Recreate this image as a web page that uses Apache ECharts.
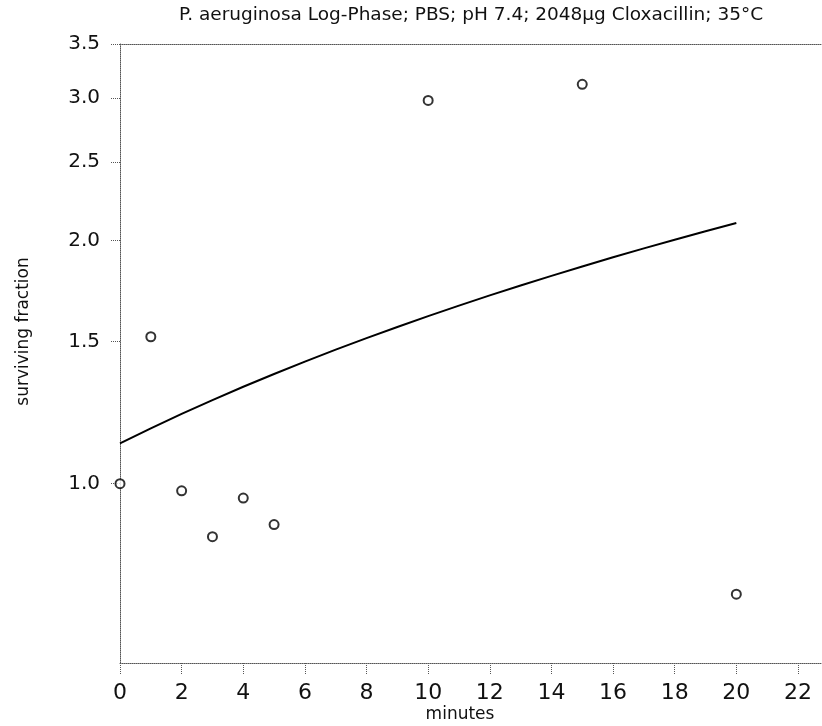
<!DOCTYPE html>
<html><head><meta charset="utf-8">
<script src="https://cdn.jsdelivr.net/npm/echarts@6/dist/echarts.min.js"></script>
<style>html,body{margin:0;padding:0;background:#fff}#c{width:822px;height:726px}</style>
</head><body><div id="c"></div>
<script>
const titleText = 'P. aeruginosa Log-Phase; PBS; pH 7.4; 2048µg Cloxacillin; 35°C';
const xName = 'minutes';
const yName = 'surviving fraction';
const obsMinutes = [0, 1, 2, 3, 4, 5, 10, 15, 20];
const obsFraction = [1.00, 1.52, 0.98, 0.86, 0.96, 0.89, 2.98, 3.12, 0.73];
const fitMinutes = [0, 1, 2, 3, 4, 5, 6, 7, 8, 9, 10, 11, 12, 13, 14, 15, 16, 17, 18, 19, 20];
const fitFraction = [1.122, 1.171, 1.220, 1.269, 1.318, 1.367, 1.416, 1.465, 1.514, 1.563, 1.612,
                     1.661, 1.710, 1.759, 1.808, 1.857, 1.906, 1.955, 2.004, 2.053, 2.102];
const xTicks = [0, 2, 4, 6, 8, 10, 12, 14, 16, 18, 20, 22];
const yTicks = [1.0, 1.5, 2.0, 2.5, 3.0, 3.5];
const xRange = [0, 22.78];
const yRange = [0.6, 3.5];

const L = Math.log10;
const font = 'DejaVu Sans';
const dotted = { type: 'dotted', color: '#555', width: 1 };

const chart = echarts.init(document.getElementById('c'), null, { renderer: 'canvas' });
chart.setOption({
  animation: false,
  backgroundColor: '#fff',
  title: {
    text: titleText, left: 471, top: 6, textAlign: 'center', padding: 0,
    textStyle: { fontFamily: font, fontSize: 18.5, fontWeight: 'normal', color: '#111' }
  },
  grid: { left: 120, right: 0, top: 44, bottom: 63, containLabel: false, outerBoundsMode: 'none' },
  xAxis: [{
    type: 'value', min: xRange[0], max: xRange[1],
    name: xName, nameLocation: 'middle', nameGap: 43, nameMoveOverlap: false,
    nameTextStyle: { fontFamily: font, fontSize: 17, color: '#111', padding: [0, 22, 0, 0] },
    axisLine: { show: true, onZero: false, lineStyle: dotted },
    axisTick: { show: true, length: 12, lineStyle: dotted, customValues: xTicks },
    axisLabel: { fontFamily: font, fontSize: 22, color: '#111', margin: 19, customValues: xTicks },
    splitLine: { show: false }
  }, {
    type: 'value', position: 'top', min: xRange[0], max: xRange[1],
    axisLine: { show: true, onZero: false, lineStyle: dotted },
    axisTick: { show: false }, axisLabel: { show: false }, splitLine: { show: false }
  }],
  yAxis: {
    type: 'value', min: L(yRange[0]), max: L(yRange[1]),
    name: yName, nameLocation: 'middle', nameGap: 88, nameMoveOverlap: false,
    nameTextStyle: { fontFamily: font, fontSize: 17, color: '#111', padding: [0, 0, 0, 44] },
    axisLine: { show: true, onZero: false, lineStyle: dotted },
    axisTick: { show: true, length: 10, lineStyle: dotted, customValues: yTicks.map(L) },
    axisLabel: {
      fontFamily: font, fontSize: 20, color: '#111', margin: 20,
      customValues: yTicks.map(L),
      formatter: v => Math.pow(10, v).toFixed(1)
    },
    splitLine: { show: false }
  },
  series: [{
    type: 'line', xAxisIndex: 0,
    data: fitMinutes.map((m, i) => [m, L(fitFraction[i])]),
    smooth: false, showSymbol: false, symbol: 'none',
    lineStyle: { color: '#000', width: 2 }, z: 2
  }, {
    type: 'scatter', xAxisIndex: 0,
    data: obsMinutes.map((m, i) => [m, L(obsFraction[i])]),
    symbol: 'circle', symbolSize: 9,
    itemStyle: { color: '#fff', borderColor: '#000', borderWidth: 2 }, z: 3
  }]
});
</script></body></html>
